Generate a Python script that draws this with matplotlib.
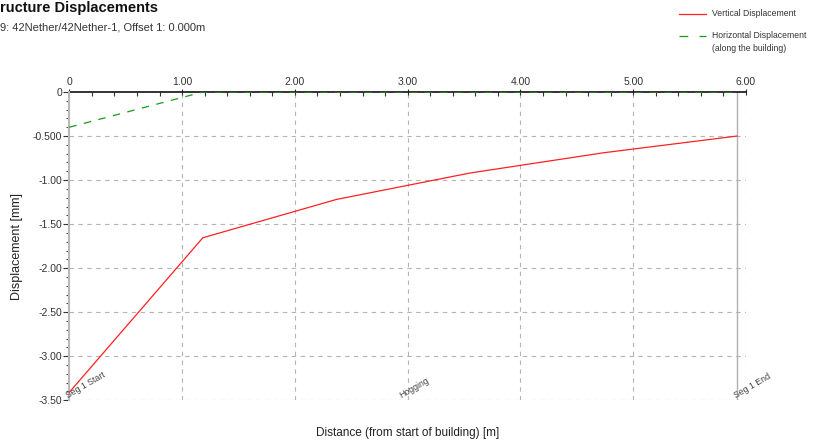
import matplotlib
matplotlib.use("Agg")
import matplotlib.pyplot as plt
from matplotlib.lines import Line2D
from matplotlib.ticker import MultipleLocator, FixedLocator

plt.rcParams['font.family'] = ['Liberation Sans', 'DejaVu Sans']

# Distances along the building [m]
distance = [0.0, 1.184, 2.368, 3.552, 4.736, 5.92]
# Vertical displacement [mm]
vertical = [-3.41, -1.655, -1.22, -0.92, -0.69, -0.50]
# Horizontal displacement along the building [mm]
horizontal = [-0.40, 0.0, 0.0, 0.0, 0.0, 0.0]

building_end = 5.92
x_ticks = [0, 1, 2, 3, 4, 5, 6]
x_tick_labels = ["0", "1.00", "2.00", "3.00", "4.00", "5.00", "6.00"]
y_ticks = [0, -0.5, -1.0, -1.5, -2.0, -2.5, -3.0, -3.5]
y_tick_labels = ["0", "-0.500", "-1.00", "-1.50", "-2.00", "-2.50", "-3.00", "-3.50"]
markers = [(0.0, "Seg 1 Start"), (2.95, "Hogging"), (5.92, "Seg 1 End")]

W, H = 816, 446
fig = plt.figure(figsize=(W / 100, H / 100), dpi=100)
ax = fig.add_axes([0.0849, 0.1025, 0.8293, 0.6912])

ax.set_xlim(0, 6)
ax.set_ylim(-3.5, 0)

# grid
for xv in x_ticks[1:]:
    ax.axvline(xv, color='#b4b4b4', lw=0.8, ls=(0, (4, 4)), zorder=0)
for yv in y_ticks[1:]:
    ax.axhline(yv, color='#b4b4b4', lw=0.8, ls=(0, (4, 4)), zorder=0)

# end of building marker
ax.plot([building_end, building_end], [0, -3.5], color='#b0b0b0', lw=1.0, zorder=1)

red = '#ff2020'
green = '#1a9a1a'
ax.plot(distance, vertical, color=red, lw=0.9, zorder=3)
ax.plot(distance, horizontal, color=green, lw=0.9, ls=(0, (6, 6)), zorder=4)

# spines
for s in ['right', 'bottom']:
    ax.spines[s].set_visible(False)
ax.spines['top'].set_color('#111111')
ax.spines['top'].set_linewidth(1.2)
ax.spines['top'].set_zorder(2)
ax.spines['left'].set_color('#b8b8b8')
ax.spines['left'].set_linewidth(1.5)

ax.xaxis.set_ticks_position('top')
ax.xaxis.set_label_position('bottom')
ax.xaxis.set_major_locator(FixedLocator(x_ticks))
ax.set_xticklabels(x_tick_labels)
ax.xaxis.set_minor_locator(MultipleLocator(0.2))
ax.tick_params(axis='x', which='major', direction='inout', length=5, width=0.8,
               colors='#333333', labelsize=7.5, pad=1)
ax.tick_params(axis='x', which='minor', direction='in', length=3, width=0.8,
               colors='#333333')

ax.yaxis.set_major_locator(FixedLocator(y_ticks))
ax.set_yticklabels(y_tick_labels)
ax.yaxis.set_minor_locator(MultipleLocator(0.1))
ax.tick_params(axis='y', which='major', direction='out', length=4, width=0.8,
               colors='#333333', labelsize=7.5, pad=1)
ax.tick_params(axis='y', which='minor', direction='out', length=2.5, width=0.8,
               colors='#444444')

ax.set_xlabel('Distance (from start of building) [m]', fontsize=8.5,
              color='#222222', labelpad=19)
ax.set_ylabel('Displacement [mm]', fontsize=9, color='#222222', labelpad=7)

for xv, txt in markers:
    ax.text(xv, -3.5, txt, rotation=30, fontsize=6.3, color='#444444',
            ha='left', va='bottom', rotation_mode='anchor', clip_on=False)

fig.text(0.0, 1 - 1 / H, 'ructure Displacements', fontsize=10.5, fontweight='bold',
         color='#111111', ha='left', va='top')
fig.text(0.0, 1 - 23 / H, '9: 42Nether/42Nether-1, Offset 1: 0.000m', fontsize=8,
         color='#333333', ha='left', va='top')

# legend
def fx(px):
    return px / W


def fy(py):
    return 1 - py / H


fig.add_artist(Line2D([fx(679), fx(706)], [fy(14), fy(14)], color=red, lw=0.9,
                      transform=fig.transFigure))
fig.add_artist(Line2D([fx(679), fx(706)], [fy(36), fy(36)], color=green, lw=0.9,
                      ls=(0, (7, 9)), transform=fig.transFigure))
fig.text(fx(712), fy(14), 'Vertical Displacement', fontsize=6.2, color='#333333',
         ha='left', va='center')
fig.text(fx(712), fy(30.5), 'Horizontal Displacement\n(along the building)',
         fontsize=6.2, color='#333333', ha='left', va='top', linespacing=1.7)

fig.savefig('out.png', dpi=100)
